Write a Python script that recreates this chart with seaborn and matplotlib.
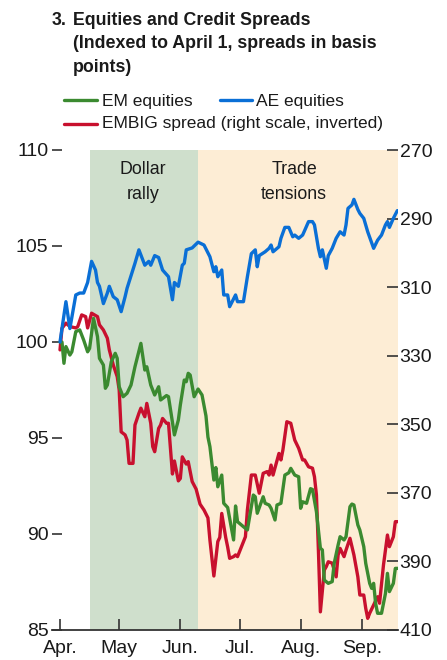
import numpy as np
import pandas as pd
import matplotlib
matplotlib.use("Agg")
import matplotlib.pyplot as plt
from matplotlib.lines import Line2D
import seaborn as sns

# ---------------- data ----------------
start_date = "2018-04-01"
# days since April 1
ae_days = [0,3,5,8,10,12,14,16,18,19,20,22,24,25,27,29,31,33,34,38,40,43,45,46,48,50,52,55,57,58,
           60,62,63,64,67,70,73,76,78,79,80,82,83,85,86,89,90,93,95,97,99,100,101,104,106,107,108,111,112,114,
           116,118,119,121,123,124,126,128,129,131,132,133,135,136,138,140,142,144,145,146,148,149,151,152,154,156,159,161,163,165,
           166,167,169,171,172]
ae_vals = [100.0,102.1,100.7,102.45,102.55,102.55,103.1,104.2,103.75,103.1,102.9,102.0,102.55,102.9,102.36,102.2,101.58,102.36,102.8,104.1,
           104.8,104.0,104.2,104.0,104.5,104.4,103.75,103.4,102.2,103.1,102.9,104.0,104.1,104.8,104.9,105.2,105.05,104.44,103.66,103.92,
           103.4,103.75,102.45,102.45,101.84,102.45,102.1,102.1,103.4,104.6,104.8,103.92,104.5,104.7,104.88,105.05,104.7,104.96,105.4,105.97,
           105.97,105.48,105.57,105.4,105.57,105.8,106.27,106.27,106.1,104.88,104.44,104.8,103.84,104.5,104.88,105.4,105.74,105.57,106.1,106.96,
           107.14,107.43,106.9,106.7,106.44,105.74,104.88,105.3,105.57,106.1,106.27,105.97,106.44,106.84,106.84]

em_days = [0,1,2,3,5,6,8,10,12,14,15,17,19,20,22,23,24,26,28,29,30,32,34,36,38,41,43,44,46,48,
           50,51,54,55,58,60,61,63,64,65,66,68,70,72,74,75,76,78,79,80,82,83,85,88,89,90,93,95,96,98,
           99,100,103,104,106,107,109,110,112,114,116,117,119,121,122,123,125,127,128,130,132,133,134,136,138,139,141,142,144,145,
           147,148,149,151,152,154,155,157,158,159,160,161,163,165,166,167,169,170,172]
em_vals = [100.0,100.0,98.89,99.76,99.32,99.49,100.54,100.63,100.1,99.49,99.67,101.23,100.28,99.15,98.8,97.59,97.76,98.97,99.41,99.15,
           97.67,97.15,97.33,97.76,98.71,99.93,98.54,98.71,97.76,97.24,97.67,96.98,97.21,97.15,95.16,95.94,96.72,98.02,97.93,98.37,
           98.28,97.15,97.55,97.24,96.15,95.05,94.55,92.81,93.46,92.46,93.07,91.6,91.38,89.69,91.46,90.64,90.38,90.21,90.82,92.03,
           91.94,91.08,91.94,91.6,91.51,91.34,90.73,91.51,91.6,93.07,93.19,93.42,93.07,92.98,91.34,91.68,91.6,92.36,92.32,91.16,
           89.26,89.17,87.6,87.43,87.52,88.47,89.43,89.86,89.69,89.86,91.42,91.56,91.51,90.47,90.21,89.34,88.47,87.43,87.17,87.43,
           86.39,85.87,85.87,86.91,87.95,87.0,87.43,88.21,88.21]

embig_days = [0,1,3,5,8,9,11,13,14,16,19,20,22,24,25,27,29,30,31,33,34,35,37,38,40,41,43,44,46,47,
              48,50,51,52,54,55,57,58,60,61,62,64,65,67,69,71,73,75,76,78,80,81,82,84,85,86,88,89,90,92,
              94,95,97,99,101,103,105,106,107,108,111,112,113,115,117,119,121,123,124,126,128,129,130,131,132,134,135,136,138,140,
              141,142,144,145,147,149,151,152,154,155,156,157,159,161,162,164,166,167,169,170,172]
embig_vals = [328.3,322.0,320.5,321.5,321.9,321.5,318.1,318.6,321.9,317.6,318.6,321.0,322.5,324.9,328.3,332.7,336.1,340.0,352.2,353.1,
              354.6,361.4,361.4,350.2,346.8,345.3,347.8,343.9,349.7,356.5,358.0,351.2,350.2,348.3,349.7,349.7,364.5,360.7,366.5,365.8,
              359.5,361.6,360.9,366.7,368.9,373.3,375.0,377.3,383.75,394.25,384.2,383.0,376.0,383.0,385.8,389.1,388.6,388.1,388.6,385.7,
              382.8,375.0,364.8,364.8,370.1,364.3,363.8,364.8,361.9,364.8,358.5,360.4,357.5,349.25,349.7,354.6,357.0,360.4,360.4,362.4,
              362.8,365.3,370.6,386.7,404.7,392.5,391.5,390.1,390.5,394.5,388.1,386.2,388.6,386.7,383.25,388.1,394.5,399.8,399.8,403.7,
              406.6,405.1,402.7,400.3,402.2,391.0,382.3,385.7,382.8,378.4,378.4]

series_labels = ["EM equities", "AE equities", "EMBIG spread (right scale, inverted)"]
left_ticks = [85, 90, 95, 100, 105, 110]
right_ticks = [270, 290, 310, 330, 350, 370, 390, 410]
month_starts = ["2018-04-01", "2018-05-01", "2018-06-01", "2018-07-01", "2018-08-01", "2018-09-01"]
month_labels = ["Apr.", "May", "Jun.", "Jul.", "Aug.", "Sep."]
period_starts = ["2018-04-16", "2018-06-10"]
period_ends = ["2018-06-10", "2018-09-25"]
period_labels = ["Dollar\nrally", "Trade\ntensions"]
period_label_dates = ["2018-05-13 02:00", "2018-07-28 17:00"]
title_lines = ["3.", "Equities and Credit Spreads", "(Indexed to April 1, spreads in basis", "points)"]

# ---------------- style ----------------
sns.set_theme(style="white")
plt.rcParams["font.family"] = ["Liberation Sans", "DejaVu Sans"]

C_EM = "#3b8a30"
C_AE = "#0a6fd6"
C_EMBIG = "#c8102e"
SHADES = ["#cfdfcc", "#fdedd5"]
C_TXT = "#1a1a1a"
C_AX = "#333333"

W, H = 447, 660
fig = plt.figure(figsize=(W / 100, H / 100), dpi=100)
L, R, T, B = 52, 397.5, 150, 630
ax = fig.add_axes([L / W, 1 - B / H, (R - L) / W, (B - T) / H])
ax2 = ax.twinx()

base = pd.Timestamp(start_date)
to_dates = lambda d: base + pd.to_timedelta(d, unit="D")

# shading on the back axis
for s, e, c in zip(period_starts, period_ends, SHADES):
    ax2.axvspan(pd.Timestamp(s), pd.Timestamp(e), color=c, lw=0, zorder=0)

sns.lineplot(x=to_dates(embig_days), y=embig_vals, ax=ax2, color=C_EMBIG, linewidth=2.4)
sns.lineplot(x=to_dates(em_days), y=em_vals, ax=ax, color=C_EM, linewidth=2.4)
sns.lineplot(x=to_dates(ae_days), y=ae_vals, ax=ax, color=C_AE, linewidth=2.4)

ax.set_zorder(ax2.get_zorder() + 1)
ax.patch.set_visible(False)

xmin = base - pd.Timedelta(days=4.06)
xmax = base + pd.Timedelta(days=171.1)
ax.set_xlim(xmin, xmax)
ax.set_ylim(85, 110)
ax2.set_ylim(410, 270)

ax.set_yticks(left_ticks)
ax.set_yticklabels([str(t) for t in left_ticks])
ax2.set_yticks(right_ticks)
ax2.set_yticklabels([str(t) for t in right_ticks])
ax.set_xticks([pd.Timestamp(m) for m in month_starts])
ax.set_xticklabels(month_labels)

tick_fs = 14
ax.tick_params(axis="y", direction="in", length=7, width=1.2, color=C_AX, pad=2.5,
               labelsize=tick_fs, labelcolor=C_TXT, left=True, right=False)
ax.tick_params(axis="x", direction="in", length=8, width=1.2, color=C_AX, pad=7,
               labelsize=tick_fs, labelcolor=C_TXT, bottom=True)
ax2.tick_params(axis="y", direction="in", length=8, width=1.2, color=C_AX, pad=1.5,
                labelsize=tick_fs, labelcolor=C_TXT, right=True, left=False)
for a in (ax, ax2):
    a.set_xlabel("")
    a.set_ylabel("")
    for sp in a.spines.values():
        sp.set_visible(False)
ax.spines["bottom"].set_visible(True)
ax.spines["bottom"].set_color(C_AX)
ax.spines["bottom"].set_linewidth(1.3)

# period labels
for lab, d in zip(period_labels, period_label_dates):
    ax.text(pd.Timestamp(d), 0.978, lab, transform=ax.get_xaxis_transform(),
            ha="center", va="top", fontsize=12.8, color=C_TXT, linespacing=1.62)

# title
fx = lambda px: px / W
fy = lambda py: 1 - py / H
fig.text(fx(51.7), fy(25), title_lines[0], fontsize=12.8, fontweight="bold", color=C_TXT, va="baseline")
for i, line in enumerate(title_lines[1:]):
    fig.text(fx(72.7), fy(25 + 23.5 * i), line, fontsize=12.8, fontweight="bold", color=C_TXT, va="baseline")

# legend (manual)
leg_specs = [
    (series_labels[0], C_EM, 64, 97, 100, 101.7, 106),
    (series_labels[1], C_AE, 220, 252, 100, 256, 106),
    (series_labels[2], C_EMBIG, 64, 97, 124, 101.7, 128.3),
]
for lab, col, x0, x1, yl, xt, yb in leg_specs:
    fig.add_artist(Line2D([fx(x0), fx(x1)], [fy(yl), fy(yl)], color=col, lw=2.4,
                          transform=fig.transFigure))
    fig.text(fx(xt), fy(yb), lab, fontsize=12.5, color=C_TXT, va="baseline")

fig.savefig("out.png", dpi=100)
